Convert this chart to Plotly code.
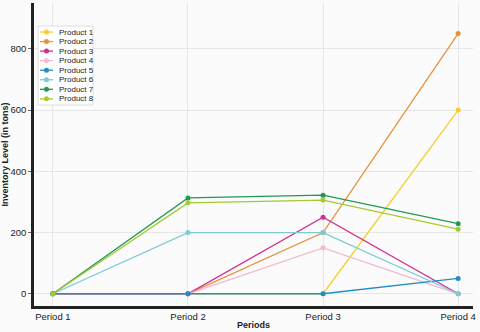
import plotly.graph_objects as go

periods = ["Period 1", "Period 2", "Period 3", "Period 4"]
product_names = ["Product 1", "Product 2", "Product 3", "Product 4",
                 "Product 5", "Product 6", "Product 7", "Product 8"]

product_1 = [0, 0, 0, 600]
product_2 = [0, 0, 200, 850]
product_3 = [0, 0, 250, 0]
product_4 = [0, 0, 150, 0]
product_5 = [0, 0, 0, 50]
product_6 = [0, 200, 200, 0]
product_7 = [0, 313, 322, 229]
product_8 = [0, 297, 306, 211]

series = [product_1, product_2, product_3, product_4,
          product_5, product_6, product_7, product_8]
colors = ["#f7cf2b", "#e8913a", "#d42c8c", "#f2b8d4",
          "#1f8ec8", "#7ccad8", "#1f9a55", "#a6c92e"]

# plot area in pixels (used for the hand-drawn compact legend)
W, H = 480, 332
ML, MR, MT, MB = 34, 7, 3, 26
PW, PH = W - ML - MR, H - MT - MB


def px_x(px):
    return (px - ML) / PW


def px_y(py):
    return (H - MB - py) / PH


fig = go.Figure()
for name, vals, col in zip(product_names, series, colors):
    fig.add_trace(
        go.Scatter(
            x=list(range(len(periods))),
            y=vals,
            mode="lines+markers",
            line=dict(color=col, width=1.3),
            marker=dict(color=col, size=5),
            name=name,
            showlegend=False
        )
    )

# compact legend box (plotly's own legend rows are too tall for this size)
fig.add_shape(type="rect", xref="paper", yref="paper",
              x0=px_x(38), x1=px_x(93), y0=px_y(105), y1=px_y(26),
              line=dict(color="#dddddd", width=1), fillcolor="white", layer="above")
for i, (name, col) in enumerate(zip(product_names, colors)):
    yy = px_y(32 + i * 9.55)
    fig.add_shape(type="line", xref="paper", yref="paper",
                  x0=px_x(40), x1=px_x(53), y0=yy, y1=yy,
                  line=dict(color=col, width=1.3), layer="above")
    fig.add_shape(type="circle", xref="paper", yref="paper",
                  xsizemode="pixel", ysizemode="pixel",
                  xanchor=px_x(46.5), yanchor=yy,
                  x0=-2.5, x1=2.5, y0=-2.5, y1=2.5,
                  line=dict(width=0), fillcolor=col, layer="above")
    fig.add_annotation(xref="paper", yref="paper", x=px_x(57), y=yy,
                       xanchor="left", yanchor="middle", text=name,
                       showarrow=False, font=dict(size=8, color="#222222"))

fig.update_layout(
    width=W,
    height=H,
    margin=dict(l=ML, r=MR, t=MT, b=MB),
    paper_bgcolor="#fbfbfb",
    plot_bgcolor="#fbfbfb",
    font=dict(family="Arial", size=9.5, color="#222222"),
    showlegend=False,
    xaxis=dict(
        tickmode="array",
        tickvals=list(range(len(periods))),
        ticktext=periods,
        range=[-0.14, 3.11],
        showgrid=True,
        gridcolor="#e6e6e6",
        gridwidth=1,
        zeroline=False,
        showline=True,
        linecolor="#222222",
        linewidth=2.5,
        ticks="",
        automargin=False,
        title=dict(text="<b>Periods</b>", standoff=1, font=dict(size=9))
    ),
    yaxis=dict(
        range=[-40, 950],
        tickvals=[0, 200, 400, 600, 800],
        showgrid=True,
        gridcolor="#e6e6e6",
        gridwidth=1,
        zeroline=False,
        showline=True,
        linecolor="#222222",
        linewidth=2.5,
        ticks="outside",
        ticklen=3,
        tickcolor="#666666",
        automargin=False,
        title=dict(text="<b>Inventory Level (in tons)</b>", standoff=4, font=dict(size=9))
    )
)

fig.write_html("out.html", config=dict(displayModeBar=False),
               post_script="document.body.style.margin='0';")
